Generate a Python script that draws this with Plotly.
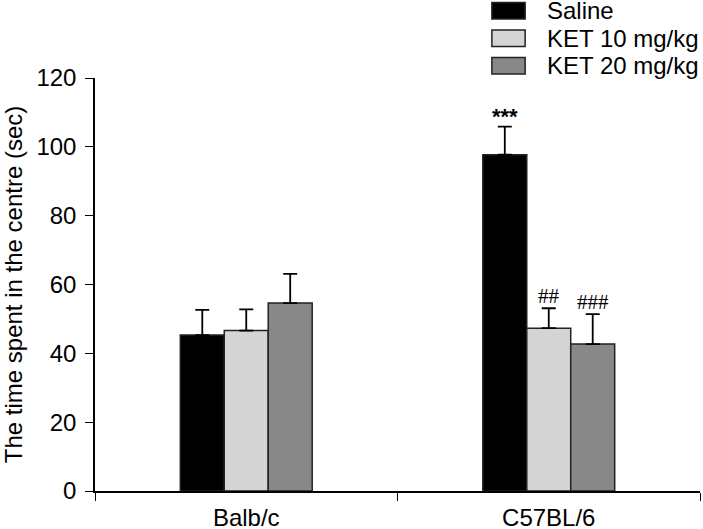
import plotly.graph_objects as go

categories = ["Balb/c", "C57BL/6"]
series_names = ["Saline", "KET 10 mg/kg", "KET 20 mg/kg"]
saline_mean = [45.3, 97.7]
saline_err = [7.3, 8.2]
ket10_mean = [46.6, 47.3]
ket10_err = [6.2, 5.8]
ket20_mean = [54.6, 42.7]
ket20_err = [8.5, 8.7]
series_means = [saline_mean, ket10_mean, ket20_mean]
series_errs = [saline_err, ket10_err, ket20_err]
colors = ["#000000", "#d4d4d4", "#888888"]
# significance marks: (category index, series index, text)
marks = [(1, 0, "***"), (1, 1, "##"), (1, 2, "###")]

y_ticks = [0, 20, 40, 60, 80, 100, 120]

FONT = "Arial, 'Liberation Sans', sans-serif"
SERIF = "'Liberation Serif', 'Times New Roman', serif"
BARGAP = 0.564

fig = go.Figure()
for name, m, e, c in zip(series_names, series_means, series_errs, colors):
    fig.add_trace(go.Bar(
        x=categories, y=m, name=name,
        marker=dict(color=c, line=dict(color="#222222", width=1.5)),
        error_y=dict(type="data", array=e, arrayminus=[0] * len(e), symmetric=False,
                     color="#000000", thickness=1.8, width=7),
        showlegend=False,
    ))

bar_w = (1 - BARGAP) / 3
for ci, si, txt in marks:
    top = series_means[si][ci] + series_errs[si][ci]
    is_star = txt.startswith("*")
    fig.add_annotation(
        x=ci + (si - 1) * bar_w, y=top, xref="x", yref="y",
        text="<b>%s</b>" % txt if is_star else txt, showarrow=False, yanchor="bottom",
        yshift=-4 if is_star else -2,
        font=dict(family=FONT if is_star else SERIF,
                  size=22 if is_star else 21, color="#000000"),
    )

# custom legend (wide swatches like the reference)
row_h = 0.0665
for i, (name, c) in enumerate(zip(series_names, colors)):
    yc = 1.1626 - i * row_h
    fig.add_shape(type="rect", xref="paper", yref="paper",
                  x0=0.656, x1=0.711, y0=yc - 0.020, y1=yc + 0.020,
                  fillcolor=c, line=dict(color="#222222", width=1.5))
    fig.add_annotation(x=0.744, y=yc, xref="paper", yref="paper", text=name,
                       showarrow=False, xanchor="left", yanchor="middle",
                       font=dict(family=FONT, size=24, color="#000000"))

fig.update_layout(
    width=703, height=529,
    margin=dict(l=95, r=3, t=78, b=38, autoexpand=False),
    paper_bgcolor="white", plot_bgcolor="white",
    barmode="group", bargap=BARGAP, bargroupgap=0,
    font=dict(family=FONT, size=24, color="#000000"),
    xaxis=dict(showline=True, linecolor="#000000", linewidth=1.5, automargin=False,
               ticks="outside", tickson="boundaries", ticklen=8, tickcolor="#000000",
               showgrid=False, tickfont=dict(size=24), ticklabelstandoff=4),
    yaxis=dict(range=[0, 120], tickvals=y_ticks, showline=True, linecolor="#000000",
               linewidth=1.5, ticks="outside", ticklen=8, tickcolor="#000000", automargin=False,
               showgrid=False, zeroline=False, tickfont=dict(size=24), ticklabelstandoff=4,
               title=dict(text="The time spent in the centre (sec)", font=dict(size=24), standoff=10)),
)

fig.write_html("out.html", config={"displayModeBar": False},
               post_script="document.body.style.margin='0';document.body.style.overflow='hidden';")
